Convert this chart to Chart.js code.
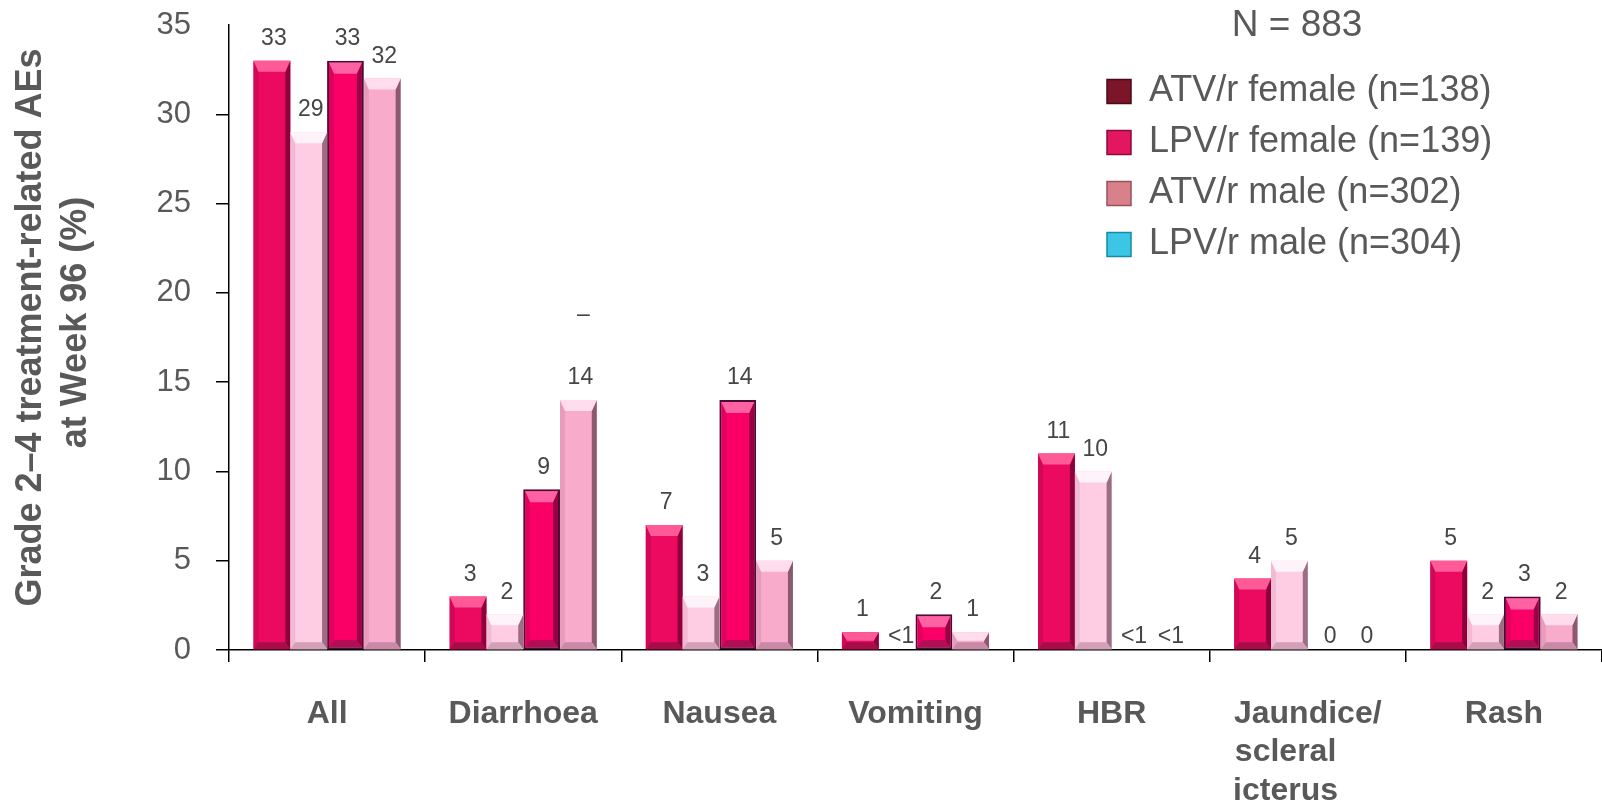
<!DOCTYPE html>
<html>
<head>
<meta charset="utf-8">
<script src="https://cdn.jsdelivr.net/npm/chart.js@4.4.1/dist/chart.umd.min.js"></script>
<style>
  html, body { margin: 0; padding: 0; background: #ffffff; }
  canvas { display: block; }
</style>
</head>
<body>
<canvas id="chart" width="1602" height="802"></canvas>
<script>
// ---- data -------------------------------------------------------------
const categories = [
  'All', 'Diarrhoea', 'Nausea', 'Vomiting', 'HBR',
  ['Jaundice/', 'scleral\u00a0\u00a0\u00a0\u00a0\u00a0', 'icterus\u00a0\u00a0\u00a0\u00a0\u00a0'],
  'Rash'
];
const seriesNames = [
  'ATV/r female (n=138)',
  'LPV/r female (n=139)',
  'ATV/r male (n=302)',
  'LPV/r male (n=304)'
];
// null = reported as "<1"
const atvFemale = [33, 3, 7, 1, 11, 4, 5];
const lpvFemale = [29, 2, 3, null, 10, 5, 2];
const atvMale   = [33, 9, 14, 2, null, 0, 3];
const lpvMale   = [32, 14, 5, 1, null, 0, 2];

const cohortLabel = 'N = 883';
const yTitle = ['\u00a0\u00a0Grade 2\u20134 treatment-related AEs', '\u00a0\u00a0\u00a0at Week 96 (%)'];
const yAxisMax = 35;
const yAxisStep = 5;
const diarrhoeaMark = { text: '\u2013', category: 1, series: 3, value: 18.8 };

// ---- styles -----------------------------------------------------------
const FONT = '"Liberation Sans", Arial, Helvetica, sans-serif';
const GREY = '#595959';

const barStyles = [
  { face: '#EC0A60', top: '#FF5A98', left: '#D10757', right: '#8E003A', bottom: '#A80C4A', border: null },
  { face: '#FFCDE3', top: '#FFF3FA', left: '#F1BAD2', right: '#9C6E84', bottom: '#D2A0B7', border: null },
  { face: '#FA0067', top: '#FF62A3', left: '#E2005E', right: '#9A0044', bottom: '#B00E55', border: '#4B0B34' },
  { face: '#F8ABCB', top: '#FFDDEC', left: '#E79CBC', right: '#8C5A70', bottom: '#C98AA7', border: null }
];
const legendSwatches = [
  { fill: '#7C1528', stroke: '#4A0A16' },
  { fill: '#E2175F', stroke: '#8E0A3A' },
  { fill: '#D9818A', stroke: '#9A5058' },
  { fill: '#3CC6E6', stroke: '#1888A8' }
];

const seriesValues = [atvFemale, lpvFemale, atvMale, lpvMale];

// ---- plugins ----------------------------------------------------------
function poly(ctx, pts, color) {
  ctx.beginPath();
  ctx.moveTo(pts[0][0], pts[0][1]);
  for (let i = 1; i < pts.length; i++) ctx.lineTo(pts[i][0], pts[i][1]);
  ctx.closePath();
  ctx.fillStyle = color;
  ctx.fill();
}

// bevelled faces drawn over each bar rectangle
const bevelPlugin = {
  id: 'bevel',
  afterDatasetsDraw(chart) {
    const ctx = chart.ctx;
    ctx.save();
    chart.data.datasets.forEach((ds, di) => {
      const st = barStyles[di];
      chart.getDatasetMeta(di).data.forEach(bar => {
        const p = bar.getProps(['x', 'y', 'base', 'width'], true);
        if (!isFinite(p.y) || !isFinite(p.base)) return;
        if (Math.abs(p.base - p.y) < 1) return;
        const inset = st.border ? 2 : 0;
        const L = p.x - p.width / 2 + inset;
        const R = p.x + p.width / 2 - inset;
        const T = Math.min(p.y, p.base) + inset;
        const B = Math.max(p.y, p.base) - inset;
        const hh = B - T;
        const bt = Math.min(11, hh / 2);
        const bb = Math.min(7, hh / 2);
        const bs = Math.min(5, (R - L) / 4);
        poly(ctx, [[L, T], [L + bs, T + bt], [L + bs, B - bb], [L, B]], st.left);
        poly(ctx, [[R, T], [R, B], [R - bs, B - bb], [R - bs, T + bt]], st.right);
        poly(ctx, [[L, T], [R, T], [R - bs, T + bt], [L + bs, T + bt]], st.top);
        poly(ctx, [[L, B], [R, B], [R - bs, B - bb], [L + bs, B - bb]], st.bottom);
      });
    });
    ctx.restore();
  }
};

// value labels above the bars
const valueLabels = {
  id: 'valueLabels',
  afterDatasetsDraw(chart) {
    const ctx = chart.ctx;
    const yScale = chart.scales.y;
    const zeroPx = yScale.getPixelForValue(0);
    ctx.save();
    ctx.font = '23px ' + FONT;
    ctx.fillStyle = '#454545';
    ctx.textAlign = 'center';
    ctx.textBaseline = 'middle';
    chart.data.datasets.forEach((ds, di) => {
      chart.getDatasetMeta(di).data.forEach((bar, i) => {
        const v = ds.data[i];
        const text = v === null ? '<1' : String(v);
        if (!v) {
          ctx.fillText(text, bar.x + 4, zeroPx - 13);
        } else {
          ctx.fillText(text, bar.x + 2, yScale.getPixelForValue(v) - 22);
        }
      });
    });
    const m = diarrhoeaMark;
    const mb = chart.getDatasetMeta(m.series).data[m.category];
    ctx.fillText(m.text, mb.x + 5, yScale.getPixelForValue(m.value));
    ctx.restore();
  }
};

// moves the legend block to the upper right of the plot
const legendPlacement = {
  id: 'legendPlacement',
  beforeDraw(chart, args, opts) {
    const lg = chart.legend;
    if (!lg) return;
    lg.left = opts.left;
    lg.top = opts.top;
  }
};

// ---- chart ------------------------------------------------------------
Chart.defaults.font.family = FONT;

new Chart(document.getElementById('chart'), {
  type: 'bar',
  data: {
    labels: categories,
    datasets: seriesValues.map((vals, i) => ({
      label: seriesNames[i],
      data: vals,
      backgroundColor: barStyles[i].face,
      borderColor: barStyles[i].border || barStyles[i].face,
      borderWidth: c => (barStyles[i].border && c.raw) ? 2 : 0,
      borderSkipped: false,
      categoryPercentage: 0.75,
      barPercentage: 1.0
    }))
  },
  options: {
    responsive: false,
    animation: false,
    devicePixelRatio: 1,
    layout: { padding: { top: 25, right: 0, bottom: 0, left: 0 } },
    plugins: {
      tooltip: { enabled: false },
      legendPlacement: { left: 1092, top: 7 },
      legend: {
        position: 'chartArea',
        align: 'start',
        title: {
          display: true,
          text: cohortLabel,
          color: GREY,
          position: 'center',
          font: { size: 37 },
          padding: { top: 0, bottom: 7 }
        },
        labels: {
          color: GREY,
          font: { size: 36 },
          boxWidth: 24,
          boxHeight: 24,
          padding: 15,
          generateLabels: chart => chart.data.datasets.map((ds, i) => ({
            text: ds.label,
            fillStyle: legendSwatches[i].fill,
            strokeStyle: legendSwatches[i].stroke,
            lineWidth: 1.5,
            hidden: false,
            datasetIndex: i
          }))
        }
      }
    },
    scales: {
      x: {
        ticks: {
          color: GREY,
          font: { size: 32, weight: 'bold', lineHeight: 1.2 },
          padding: 33,
          maxRotation: 0,
          autoSkip: false
        },
        grid: { drawOnChartArea: false, tickLength: 12, color: '#000', lineWidth: 1.5, offset: true },
        border: { color: '#000', width: 1.5 },
        afterFit: s => { s.height = 152; }
      },
      y: {
        min: 0,
        max: yAxisMax,
        ticks: { stepSize: yAxisStep, color: GREY, font: { size: 31 }, padding: 25 },
        grid: {
          drawOnChartArea: false,
          tickLength: 13,
          lineWidth: 1.5,
          color: c => (c.tick && c.tick.value === yAxisMax) ? 'rgba(0,0,0,0)' : '#000'
        },
        border: { color: '#000', width: 1.5 },
        title: {
          display: true,
          text: yTitle,
          color: GREY,
          font: { size: 36, weight: 'bold', lineHeight: 1.25 },
          padding: { top: 9, bottom: 0 }
        },
        afterFit: s => { s.width = 229; s.paddingTop = 0; s.paddingBottom = 0; }
      }
    }
  },
  plugins: [bevelPlugin, valueLabels, legendPlacement]
});
</script>
</body>
</html>
